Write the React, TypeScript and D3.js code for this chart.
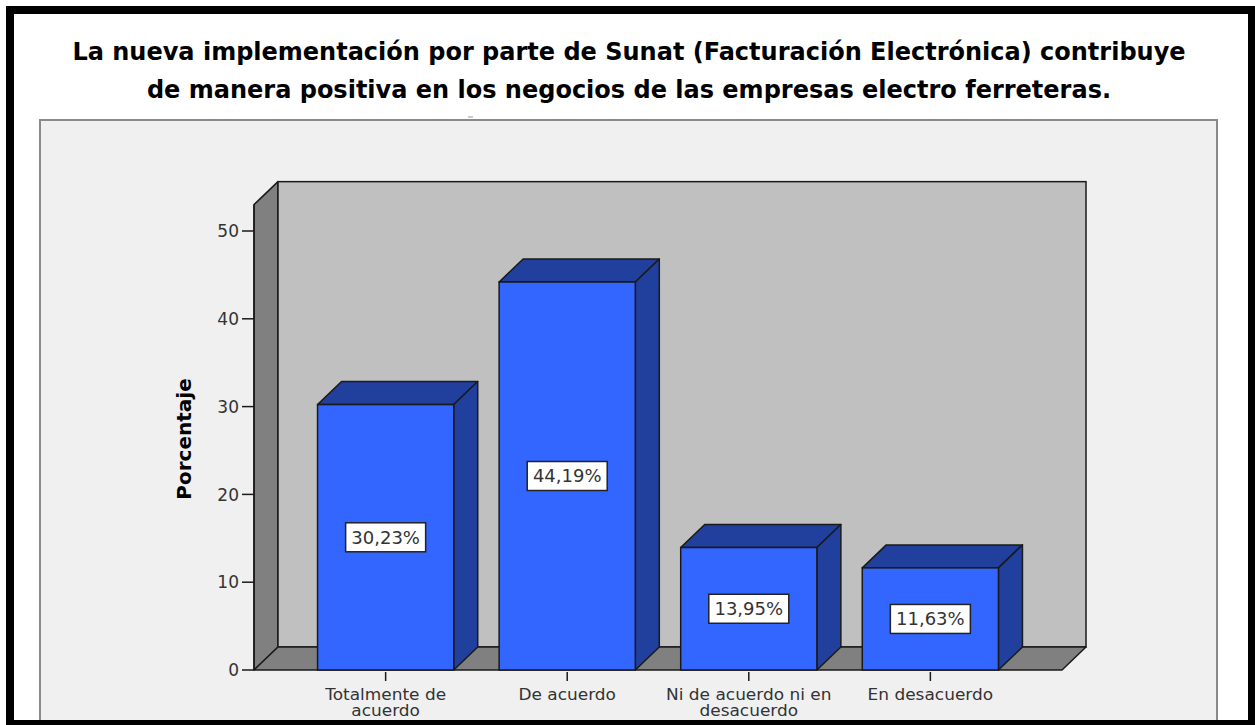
import React from 'react';
import * as d3 from 'd3';

// chart values
const categories = ['Totalmente de acuerdo', 'De acuerdo', 'Ni de acuerdo ni en desacuerdo', 'En desacuerdo'];
const categoryLines = [['Totalmente de', 'acuerdo'], ['De acuerdo'], ['Ni de acuerdo ni en', 'desacuerdo'], ['En desacuerdo']];
const values = [30.23, 44.19, 13.95, 11.63];
const yTicks = [0, 10, 20, 30, 40, 50];
const titleLines = [
  'La nueva implementación por parte de Sunat (Facturación Electrónica) contribuye',
  'de manera positiva en los negocios de las empresas electro ferreteras.',
];

const W = 1255;
const H = 725;

// 3D box layout
const x0 = 254;
const x1 = 1062;
const dx = 24;
const dy = -23;
const yMaxVal = 53;

const FRONT = '#3366ff';
const SHADE = '#213f9c';
const BACK_WALL = '#c0c0c0';
const SIDE_WALL = '#808080';
const EDGE = '#1a1a1a';
const TEXT = '#333333';

const fmt = (v: number) => v.toFixed(2).replace('.', ',') + '%';

const pts = (p: [number, number][]) => p.map(d => d.join(',')).join(' ');

const App = () => {
  const y = d3.scaleLinear().domain([0, 50]).range([670, 231]);
  const x = d3.scaleBand<string>()
    .domain(categories)
    .range([x0, x1])
    .paddingInner(0.25)
    .paddingOuter(0.35);

  const y0 = y(0);
  const yTop = y(yMaxVal);
  const bw = x.bandwidth();

  return (
    <svg
      width={W}
      height={H}
      style={{ position: 'absolute', left: 0, top: 0, display: 'block', background: '#fff' }}
    >
      {/* chart frame */}
      <rect x={40} y={120} width={1177} height={640} fill="#f0f0f0" stroke="#8a8a8a" strokeWidth={2} />

      {/* title */}
      <g fontFamily="'DejaVu Sans', sans-serif" fontWeight="bold" fontSize={24} fill="#000" textAnchor="middle">
        {titleLines.map((t, i) => (
          <text key={i} x={629} y={60 + i * 38}>{t}</text>
        ))}
      </g>
      <line x1={468} x2={473} y1={117} y2={117} stroke="#999" strokeWidth={1} />

      {/* walls */}
      <polygon
        points={pts([[x0, y0], [x0, yTop], [x0 + dx, yTop + dy], [x0 + dx, y0 + dy]])}
        fill={SIDE_WALL} stroke={EDGE} strokeWidth={1.5} strokeLinejoin="round"
      />
      <rect
        x={x0 + dx} y={yTop + dy} width={x1 - x0} height={y0 - yTop}
        fill={BACK_WALL} stroke={EDGE} strokeWidth={1.5}
      />
      <polygon
        points={pts([[x0, y0], [x1, y0], [x1 + dx, y0 + dy], [x0 + dx, y0 + dy]])}
        fill={SIDE_WALL} stroke={EDGE} strokeWidth={1.5} strokeLinejoin="round"
      />

      {/* y axis */}
      <line x1={x0} x2={x0} y1={yTop} y2={y0} stroke={EDGE} strokeWidth={1.5} />
      <g fontFamily="'DejaVu Sans', sans-serif" fontSize={17} fill={TEXT} textAnchor="end">
        {yTicks.map(t => (
          <g key={t} transform={`translate(0,${y(t)})`}>
            <line x1={242} x2={x0} stroke={EDGE} strokeWidth={1.5} />
            <text x={239} dy="0.36em">{t}</text>
          </g>
        ))}
      </g>
      <text
        transform="translate(191,439) rotate(-90)"
        textAnchor="middle"
        fontFamily="'DejaVu Sans', sans-serif"
        fontWeight="bold"
        fontSize={20}
        fill="#000"
      >
        Porcentaje
      </text>

      {/* bars */}
      {categories.map((c, i) => {
        const bx = x(c) as number;
        const by = y(values[i]);
        const cx = bx + bw / 2;
        const cy = (by + y0) / 2;
        return (
          <g key={c}>
            <polygon
              points={pts([[bx, by], [bx + dx, by + dy], [bx + bw + dx, by + dy], [bx + bw, by]])}
              fill={SHADE} stroke={EDGE} strokeWidth={1.5} strokeLinejoin="round"
            />
            <polygon
              points={pts([[bx + bw, by], [bx + bw + dx, by + dy], [bx + bw + dx, y0 + dy], [bx + bw, y0]])}
              fill={SHADE} stroke={EDGE} strokeWidth={1.5} strokeLinejoin="round"
            />
            <rect x={bx} y={by} width={bw} height={y0 - by} fill={FRONT} stroke={EDGE} strokeWidth={1.5} />
            <rect x={cx - 40} y={cy - 14.5} width={80} height={29} fill="#fff" stroke="#222" strokeWidth={1.5} />
            <text
              x={cx} y={cy} dy="0.36em" textAnchor="middle"
              fontFamily="'DejaVu Sans', sans-serif" fontSize={18} fill={TEXT}
            >
              {fmt(values[i])}
            </text>
          </g>
        );
      })}

      {/* x axis ticks and labels */}
      <g fontFamily="'DejaVu Sans', sans-serif" fontSize={15} fill={TEXT} textAnchor="middle">
        {categories.map((c, i) => {
          const cx = (x(c) as number) + bw / 2;
          return (
            <g key={c}>
              <line x1={cx} x2={cx} y1={y0 + 2} y2={y0 + 11} stroke={EDGE} strokeWidth={1.5} />
              <g transform={`translate(${cx},0) scale(1.13,1)`}>
                {categoryLines[i].map((l, j) => (
                  <text key={j} x={0} y={700 + j * 16}>{l}</text>
                ))}
              </g>
            </g>
          );
        })}
      </g>

      {/* outer black frame */}
      <rect x={10} y={10} width={1242} height={714} fill="none" stroke="#000" strokeWidth={8} />
    </svg>
  );
};

export default App;
